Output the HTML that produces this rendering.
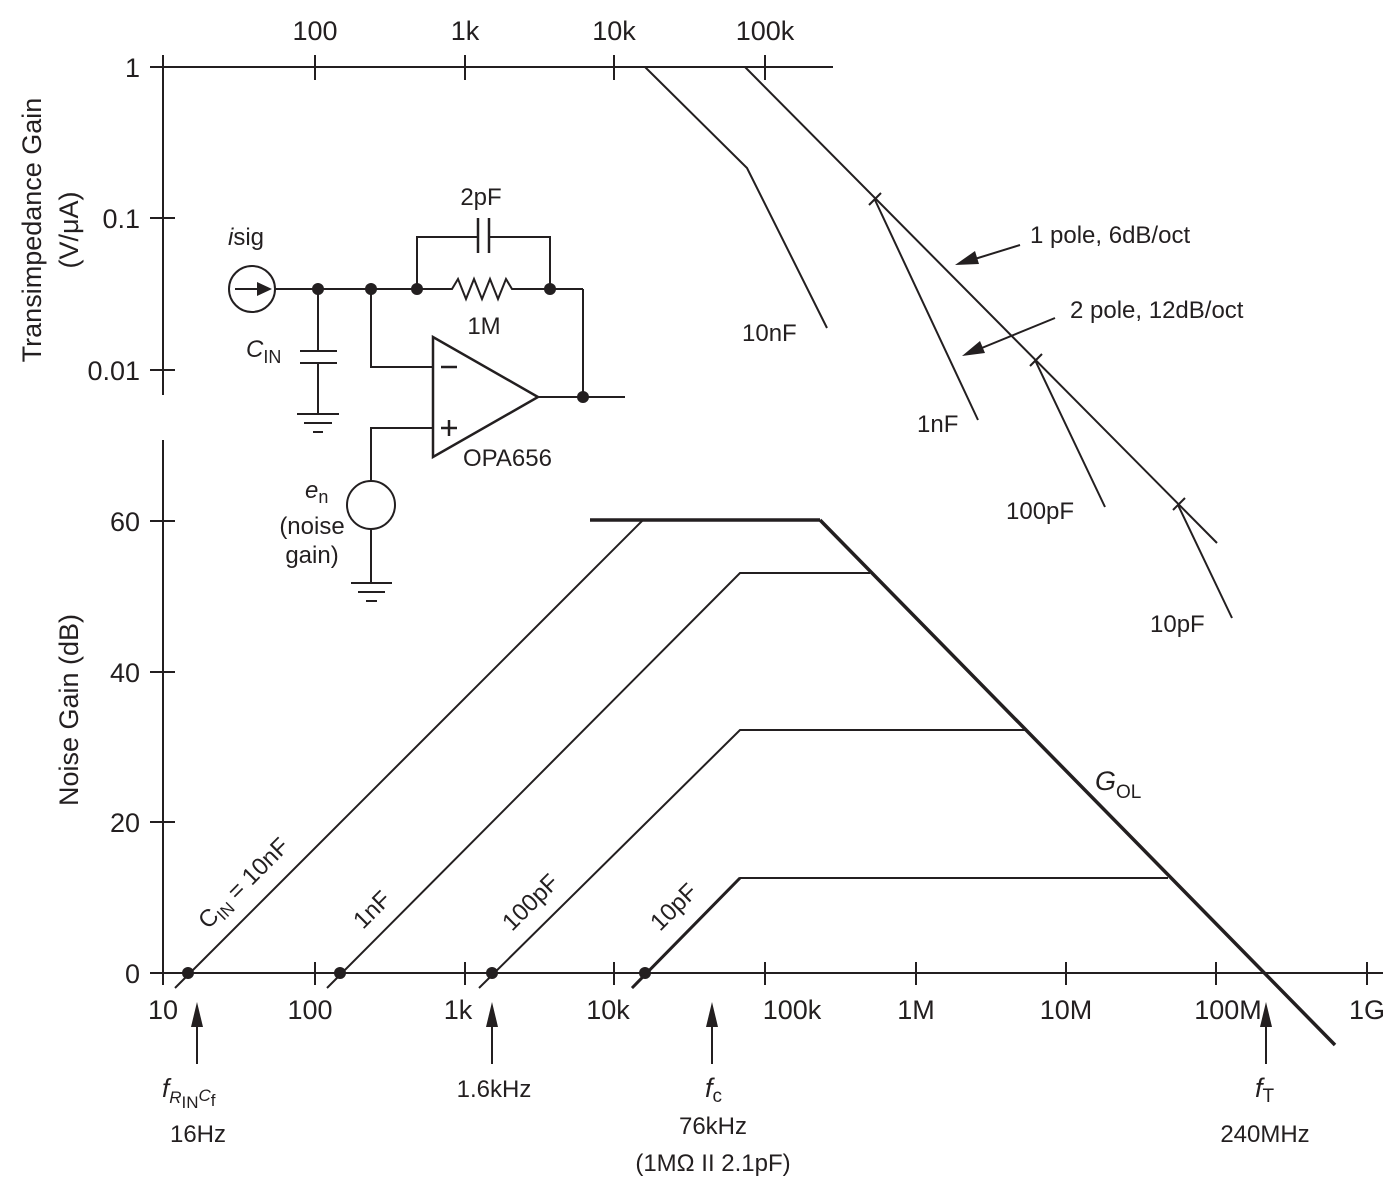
<!DOCTYPE html>
<html><head><meta charset="utf-8"><style>
html,body{margin:0;padding:0;background:#fff}
svg{display:block}
text{font-family:"Liberation Sans",sans-serif;fill:#231f20}
</style></head><body>
<svg width="1400" height="1191" viewBox="0 0 1400 1191" xmlns="http://www.w3.org/2000/svg">
<g stroke="#231f20" stroke-width="2" fill="none">
<line x1="163" y1="67" x2="833" y2="67"/>
<line x1="163" y1="55" x2="163" y2="395"/>
<line x1="150" y1="67" x2="163" y2="67"/>
<line x1="150" y1="218" x2="175" y2="218"/>
<line x1="150" y1="370" x2="175" y2="370"/>
<line x1="315" y1="55" x2="315" y2="80"/>
<line x1="465" y1="55" x2="465" y2="80"/>
<line x1="614" y1="55" x2="614" y2="80"/>
<line x1="765" y1="55" x2="765" y2="80"/>
<line x1="163" y1="440" x2="163" y2="985"/>
<line x1="150" y1="973" x2="1383" y2="973"/>
<line x1="150" y1="822" x2="175" y2="822"/>
<line x1="150" y1="672" x2="175" y2="672"/>
<line x1="150" y1="521" x2="175" y2="521"/>
<line x1="315" y1="962" x2="315" y2="985"/>
<line x1="465" y1="962" x2="465" y2="985"/>
<line x1="614" y1="962" x2="614" y2="985"/>
<line x1="765" y1="962" x2="765" y2="985"/>
<line x1="916" y1="962" x2="916" y2="985"/>
<line x1="1066" y1="962" x2="1066" y2="985"/>
<line x1="1216" y1="962" x2="1216" y2="985"/>
<line x1="1367" y1="962" x2="1367" y2="985"/>
<polyline points="645,67 747,168 827,328"/>
<line x1="745" y1="67" x2="1217" y2="543"/>
<line x1="875" y1="200" x2="978" y2="420"/>
<line x1="1035" y1="360" x2="1105" y2="507"/>
<line x1="1178" y1="505" x2="1232" y2="618"/>
<line x1="869" y1="205" x2="881" y2="193"/>
<line x1="1030" y1="366" x2="1042" y2="354"/>
<line x1="1173" y1="510" x2="1185" y2="498"/>
<line x1="175" y1="988" x2="643" y2="520"/>
<line x1="590" y1="520" x2="820" y2="520" stroke-width="3.5"/>
<line x1="820" y1="520" x2="1335" y2="1045" stroke-width="3.5"/>
<polyline points="327,988 740,573 870,573"/>
<polyline points="479,988 740,730 1025,730"/>
<polyline points="632,988 740,878 1168,878"/>
<line x1="632" y1="988" x2="740" y2="878" stroke-width="3"/>
<line x1="197" y1="1025" x2="197" y2="1064"/>
<line x1="492" y1="1025" x2="492" y2="1064"/>
<line x1="712" y1="1025" x2="712" y2="1064"/>
<line x1="1266" y1="1025" x2="1266" y2="1064"/>
<line x1="1020" y1="245" x2="965" y2="262"/>
<line x1="1055" y1="318" x2="972" y2="352"/>
<circle cx="252" cy="289" r="23"/>
<line x1="235" y1="289" x2="262" y2="289"/>
<line x1="275" y1="289" x2="583" y2="289"/>
<polyline points="583,289 583,397 625,397"/>
<polyline points="417,289 417,237 477,237"/>
<polyline points="490,237 550,237 550,289"/>
<line x1="478" y1="218" x2="478" y2="253" stroke-width="2.5"/>
<line x1="489" y1="218" x2="489" y2="253" stroke-width="2.5"/>
<line x1="450" y1="289" x2="517" y2="289" stroke="#fff" stroke-width="3"/>
<polyline points="448,289 452,289 458,279 466,299 474,279 482,299 490,279 498,299 506,279 512,289 517,289"/>
<line x1="318" y1="289" x2="318" y2="350"/>
<line x1="300" y1="351" x2="337" y2="351"/>
<line x1="300" y1="363" x2="337" y2="363"/>
<line x1="318" y1="364" x2="318" y2="414"/>
<line x1="297" y1="414" x2="339" y2="414"/>
<line x1="304" y1="423" x2="332" y2="423"/>
<line x1="313" y1="432" x2="323" y2="432"/>
<polyline points="371,289 371,367 433,367"/>
<polyline points="433,428 371,428 371,481"/>
<polygon points="433,337 433,457 538,397" stroke-width="2.5"/>
<line x1="538" y1="397" x2="583" y2="397"/>
<line x1="441" y1="367" x2="457" y2="367" stroke-width="2.5"/>
<line x1="441" y1="428" x2="457" y2="428" stroke-width="2.5"/>
<line x1="449" y1="420" x2="449" y2="436" stroke-width="2.5"/>
<circle cx="371" cy="505" r="24"/>
<line x1="371" y1="529" x2="371" y2="583"/>
<line x1="351" y1="583" x2="392" y2="583"/>
<line x1="358" y1="592" x2="385" y2="592"/>
<line x1="366" y1="601" x2="377" y2="601"/>
</g>
<g fill="#231f20">
<polygon points="272,289 257,282 257,296"/>
<circle cx="318" cy="289" r="6"/><circle cx="371" cy="289" r="6"/>
<circle cx="417" cy="289" r="6"/><circle cx="550" cy="289" r="6"/>
<circle cx="583" cy="397" r="6"/>
<circle cx="188" cy="973" r="6"/><circle cx="340" cy="973" r="6"/>
<circle cx="492" cy="973" r="6"/><circle cx="645" cy="973" r="6"/>
<polygon points="197,1002 191,1027 203,1027"/>
<polygon points="492,1002 486,1027 498,1027"/>
<polygon points="712,1002 706,1027 718,1027"/>
<polygon points="1266,1002 1260,1027 1272,1027"/>
<polygon points="955,265 975,251 979,264"/>
<polygon points="962,356 980,341 985,353"/>
</g>
<g font-size="27">
<text x="315" y="40" text-anchor="middle">100</text>
<text x="465" y="40" text-anchor="middle">1k</text>
<text x="614" y="40" text-anchor="middle">10k</text>
<text x="765" y="40" text-anchor="middle">100k</text>
<text x="140" y="77" text-anchor="end">1</text>
<text x="140" y="228" text-anchor="end">0.1</text>
<text x="140" y="380" text-anchor="end">0.01</text>
<text x="140" y="531" text-anchor="end">60</text>
<text x="140" y="682" text-anchor="end">40</text>
<text x="140" y="832" text-anchor="end">20</text>
<text x="140" y="983" text-anchor="end">0</text>
<text x="163" y="1019" text-anchor="middle">10</text>
<text x="310" y="1019" text-anchor="middle">100</text>
<text x="458" y="1019" text-anchor="middle">1k</text>
<text x="608" y="1019" text-anchor="middle">10k</text>
<text x="792" y="1019" text-anchor="middle">100k</text>
<text x="916" y="1019" text-anchor="middle">1M</text>
<text x="1066" y="1019" text-anchor="middle">10M</text>
<text x="1228" y="1019" text-anchor="middle">100M</text>
<text x="1367" y="1019" text-anchor="middle">1G</text>
<text transform="translate(41,230) rotate(-90)" text-anchor="middle">Transimpedance Gain</text>
<text transform="translate(78,230) rotate(-90)" text-anchor="middle">(V/μA)</text>
<text transform="translate(78,710) rotate(-90)" text-anchor="middle">Noise Gain (dB)</text>
</g>
<g font-size="24">
<text x="1030" y="243">1 pole, 6dB/oct</text>
<text x="1070" y="318">2 pole, 12dB/oct</text>
<text x="742" y="341">10nF</text>
<text x="917" y="432">1nF</text>
<text x="1006" y="519">100pF</text>
<text x="1150" y="632">10pF</text>
<text x="1095" y="790" font-size="27" font-style="italic">G<tspan font-size="19" font-style="normal" dy="8">OL</tspan></text>
<text x="481" y="205" text-anchor="middle">2pF</text>
<text x="484" y="334" text-anchor="middle">1M</text>
<text x="228" y="245"><tspan font-style="italic">i</tspan><tspan>sig</tspan></text>
<text x="246" y="357" font-style="italic">C<tspan font-style="normal" font-size="18" dy="6">IN</tspan></text>
<text x="463" y="466">OPA656</text>
<text x="305" y="498" font-style="italic">e<tspan font-style="normal" font-size="18" dy="5">n</tspan></text>
<text x="312" y="534" text-anchor="middle">(noise</text>
<text x="312" y="563" text-anchor="middle">gain)</text>
<text transform="translate(208,930) rotate(-45)">C<tspan font-size="17" dy="5">IN</tspan><tspan dy="-5"> = 10nF</tspan></text>
<text transform="translate(363,930) rotate(-45)">1nF</text>
<text transform="translate(512,932) rotate(-45)">100pF</text>
<text transform="translate(660,932) rotate(-45)">10pF</text>
<text x="162" y="1097" font-style="italic" font-size="26">f<tspan font-size="17" dy="6">R</tspan><tspan font-style="normal" font-size="17" dy="5">IN</tspan><tspan font-style="italic" font-size="17" dy="-7">C</tspan><tspan font-style="normal" font-size="17" dy="5">f</tspan></text>
<text x="198" y="1142" text-anchor="middle">16Hz</text>
<text x="494" y="1097" text-anchor="middle">1.6kHz</text>
<text x="705" y="1097" font-style="italic" font-size="27">f<tspan font-style="normal" font-size="19" dy="5">c</tspan></text>
<text x="713" y="1134" text-anchor="middle">76kHz</text>
<text x="713" y="1171" text-anchor="middle">(1MΩ II 2.1pF)</text>
<text x="1255" y="1097" font-style="italic" font-size="27">f<tspan font-style="normal" font-size="19" dy="5">T</tspan></text>
<text x="1265" y="1142" text-anchor="middle">240MHz</text>
</g>
</svg>
</body></html>
